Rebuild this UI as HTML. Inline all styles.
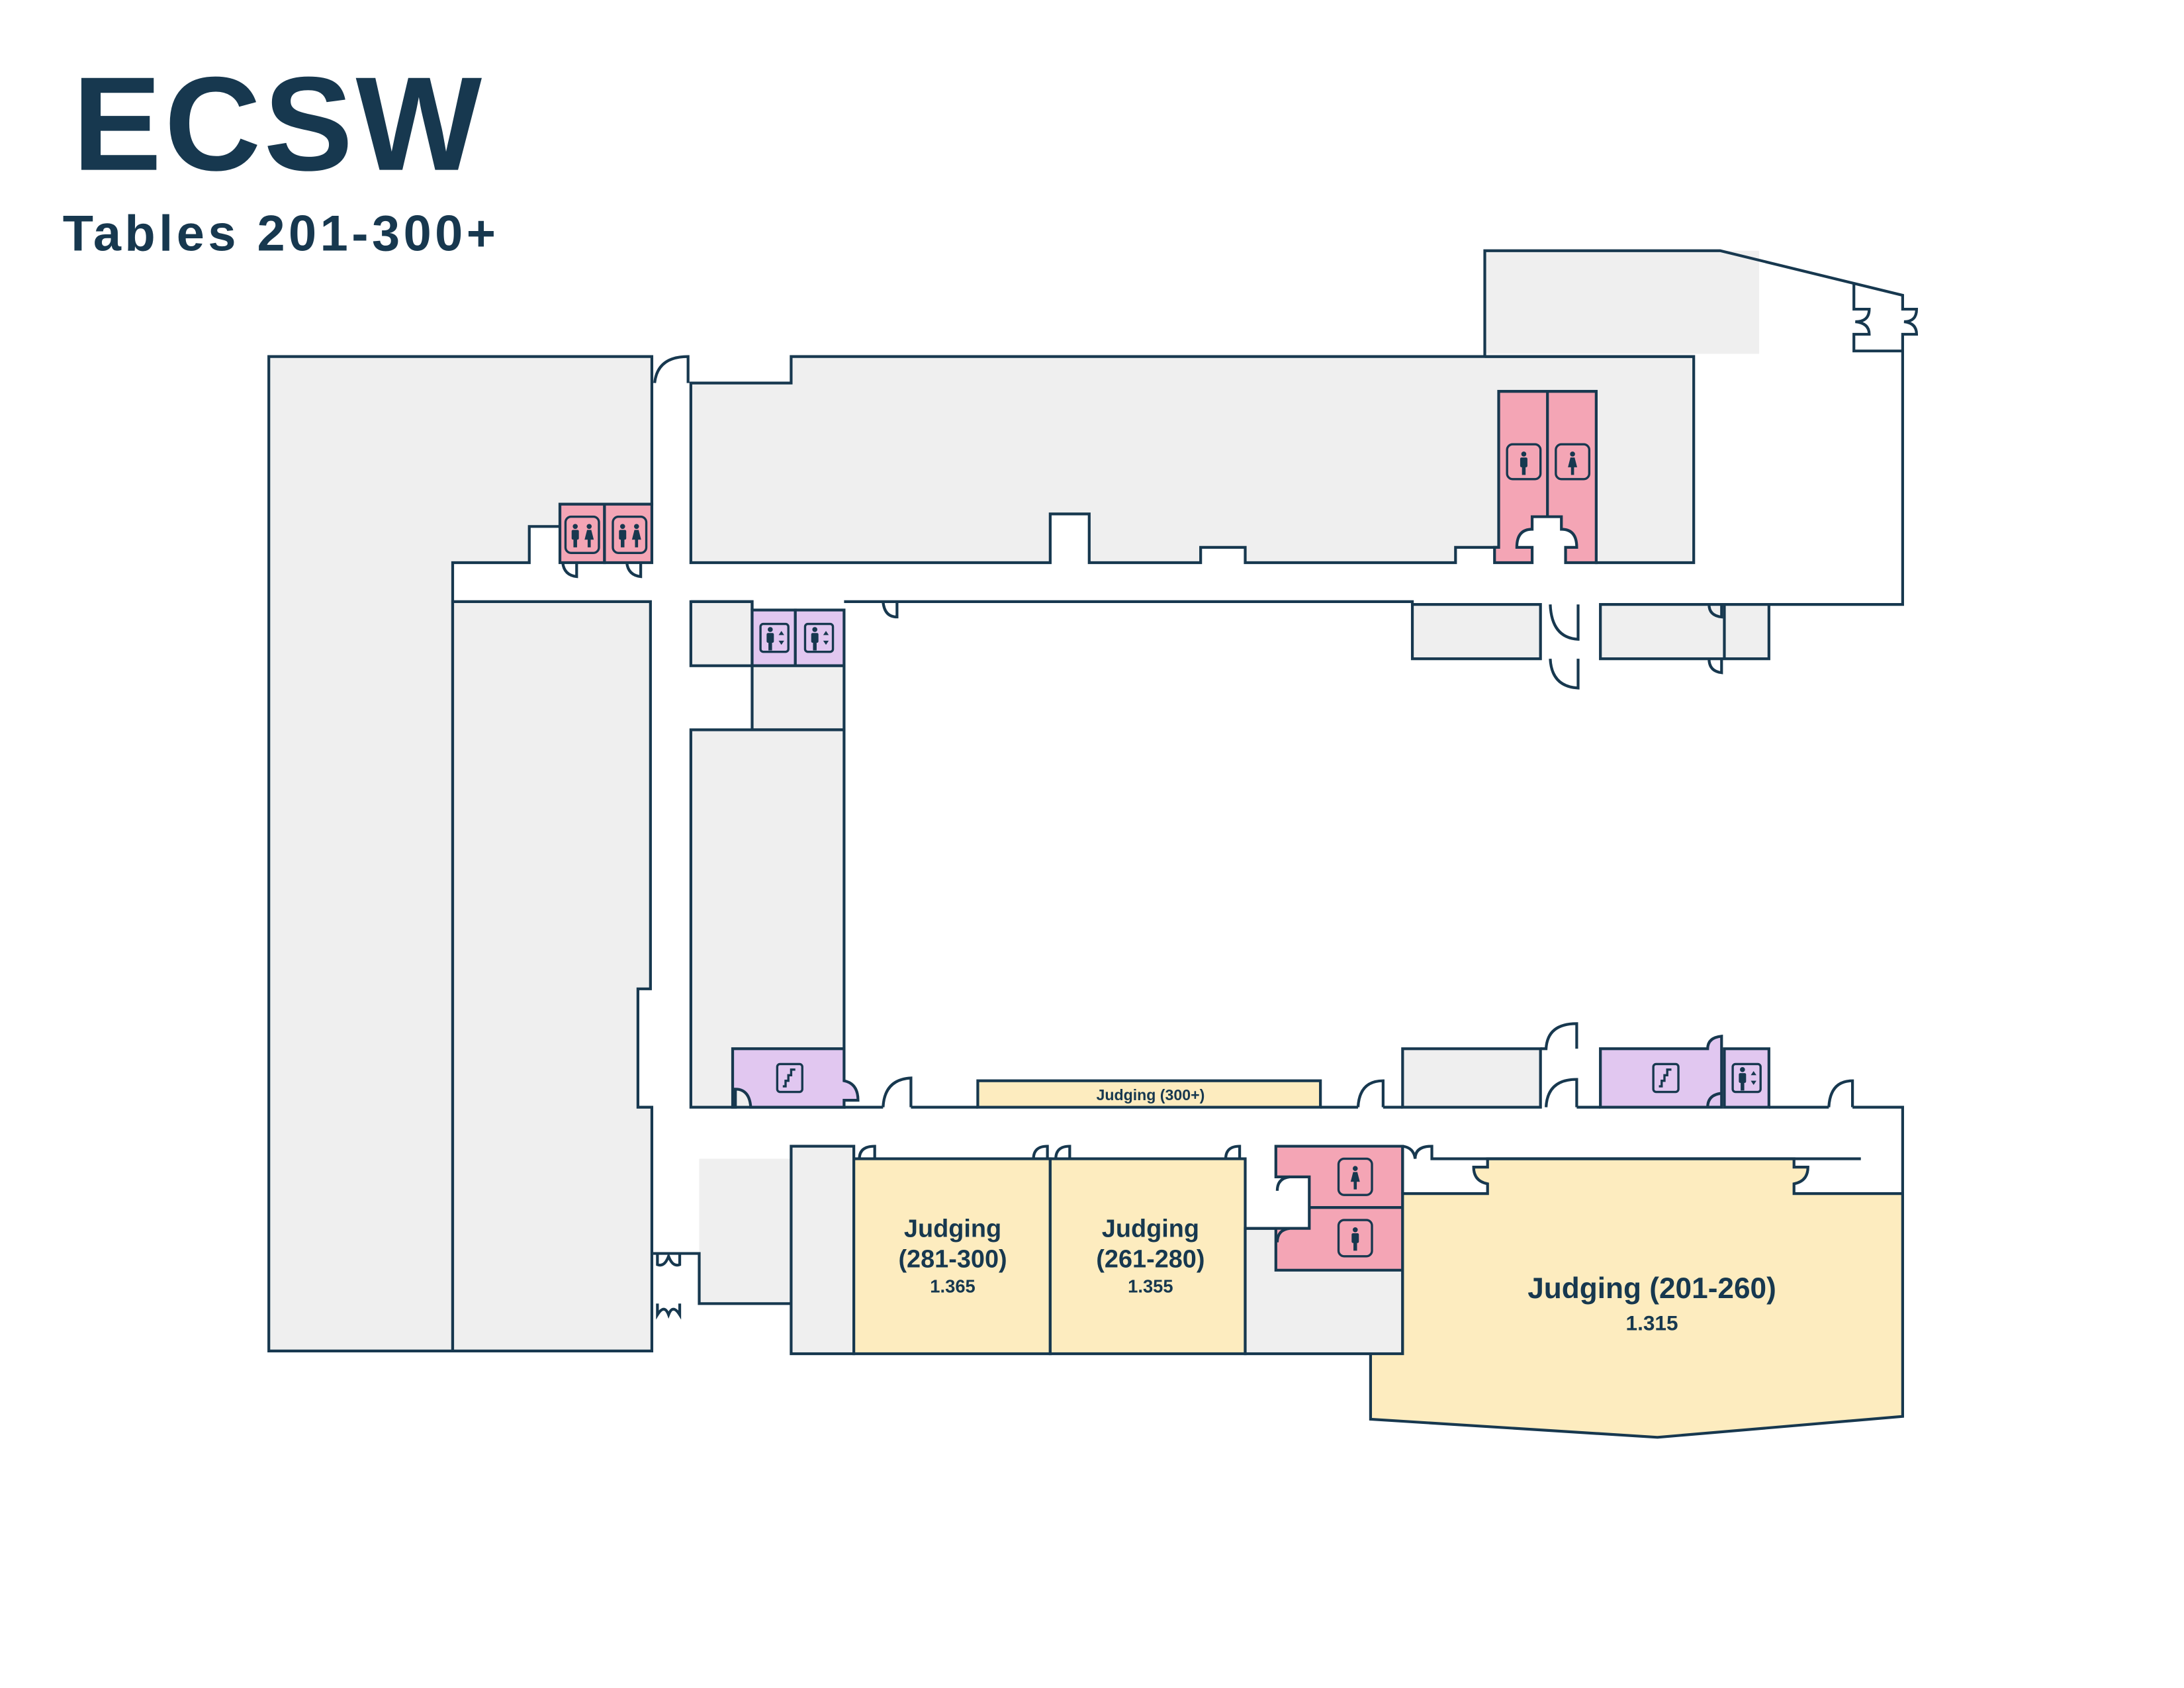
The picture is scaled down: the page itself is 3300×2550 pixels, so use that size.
<!DOCTYPE html>
<html><head><meta charset="utf-8"><style>
html,body{margin:0;padding:0;background:#fff;}
svg{display:block;}
text{font-family:"Liberation Sans",sans-serif;font-weight:bold;fill:#17384f;}
</style></head><body>
<svg width="3300" height="2550" viewBox="0 0 1568 1212" preserveAspectRatio="none" xmlns="http://www.w3.org/2000/svg">
<defs>
<g id="man"><circle cx="0" cy="-7" r="1.8" fill="#17384f"/><rect x="-2.6" y="-4.5" width="5.2" height="7" rx="1" fill="#17384f"/><rect x="-1.3" y="2" width="2.6" height="6" fill="#17384f"/></g>
<g id="woman"><circle cx="0" cy="-7" r="1.8" fill="#17384f"/><path d="M-1.5,-4.5 L1.5,-4.5 L3.3,2.5 L-3.3,2.5 Z" fill="#17384f"/><rect x="-1.1" y="2" width="2.2" height="6" fill="#17384f"/></g>
<g id="stair"><rect x="-9" y="-10" width="18" height="20" rx="2" fill="none" stroke="#17384f" stroke-width="1.6"/><path d="M-5,6 L-3,6 L-3,2 L-1,2 L-1,-2 L1,-2 L1,-6 L4,-6" fill="none" stroke="#17384f" stroke-width="1.6"/></g>
<g id="elev"><rect x="-10" y="-10" width="20" height="20" rx="2" fill="none" stroke="#17384f" stroke-width="1.6"/><use href="#man" x="-3" y="1"/><path d="M3,-2 L5,-5 L7,-2 Z M3,2 L7,2 L5,5 Z" fill="#17384f"/></g>
</defs>
<text x="52" y="122" font-size="96" letter-spacing="2">ECSW</text>
<text x="45" y="180" font-size="36" letter-spacing="2.6">Tables 201-300+</text>

<g stroke="#17384f" stroke-width="2" stroke-linejoin="miter">
<path d="M193,256 H468 V362 H402 V378 H380 V404 H325 V970 H193 Z" fill="#efefef"/>
<path d="M325,432 H467 V710 H458 V795 H468 V970 H325 Z" fill="#efefef"/>
<rect x="402" y="362" width="32" height="42" fill="#f4a5b5"/>
<rect x="434" y="362" width="34" height="42" fill="#f4a5b5"/>
<path d="M404,404 Q405,413 414,414 V404 M450,404 Q451,413 460,414 V404" fill="none"/>
<path d="M470,275 Q472,256 494,256 V275" fill="none"/>
<path d="M496,275 H568 V256 H1216 V404 H1146 V281 H1076 V393 H1045 V404 H894 V393 H862 V404 H782 V369 H754 V404 H496 Z" fill="#efefef"/>
<path d="M1076,281 H1146 V404 H1124 V393 H1132 Q1132,380 1121,380 V371 H1100 V380 Q1089,380 1089,393 H1100 V404 H1073 V393 H1076 Z" fill="#f4a5b5"/>
<line x1="1111" y1="281" x2="1111" y2="371"/>
<rect x="1066" y="180" width="197" height="74" fill="#efefef" stroke="none"/>
<path d="M1066,256 V180 H1235 L1366,212 V222 H1376 Q1376,231 1367,231 Q1376,232 1376,240 H1366 V434 H1150" fill="none"/>
<path d="M1331,204 V222 H1342 Q1342,231 1332,231 Q1342,232 1342,240 H1331 V252 H1366" fill="none"/>
<line x1="1066" y1="256" x2="1216" y2="256"/>
<rect x="1014" y="434" width="92" height="39" fill="#efefef"/>
<rect x="1149" y="434" width="121" height="39" fill="#efefef"/>
<line x1="1238" y1="434" x2="1238" y2="473"/>
<path d="M1113,434 Q1114,458 1133,459 V434 M1113,473 Q1114,493 1133,494 V473 M1227,434 Q1227,442 1236,443 V434 M1227,473 Q1227,482 1236,483 V473" fill="none"/>
<path d="M1014,434 V432 H606" fill="none"/>
<path d="M634,432 Q635,443 644,443 V432" fill="none"/>
<rect x="496" y="432" width="44" height="46" fill="#efefef"/>
<rect x="540" y="438" width="31" height="40" fill="#e1c7f0"/>
<rect x="571" y="438" width="35" height="40" fill="#e1c7f0"/>
<path d="M540,438 V432 H496" fill="none"/>
<rect x="540" y="478" width="66" height="46" fill="#efefef"/>
<rect x="496" y="524" width="110" height="271" fill="#efefef"/>
<path d="M526,753 H606 V776 Q616,778 616,790 H606 V795 H539 Q538,782 528,782 V795 H526 Z" fill="#e1c7f0"/>
<path d="M606,795 H634 M654,795 H702 M948,795 H975 M993,795 H1007 M1132,795 H1149 M1270,795 H1313 M1330,795 H1366 V1017" fill="none"/>
<path d="M634,795 Q635,775 654,774 V795 M975,795 Q976,776 993,776 V795 M1313,795 Q1314,776 1330,776 V795" fill="none"/>
<rect x="702" y="776" width="246" height="19" fill="#fdecbf"/>
<rect x="1007" y="753" width="99" height="42" fill="#efefef"/>
<path d="M1106,753 H1110 Q1111,735 1132,735 V753 M1110,795 Q1111,775 1132,775 V795" fill="none"/>
<path d="M1149,753 H1226 Q1226,745 1236,744 V795 H1149 Z" fill="#e1c7f0"/>
<path d="M1226,795 Q1226,786 1236,785" fill="none"/>
<rect x="1238" y="753" width="32" height="42" fill="#e1c7f0"/>
<rect x="502" y="832" width="66" height="104" fill="#efefef" stroke="none"/>
<path d="M469,900 H502 V936 H568" fill="none"/>
<path d="M472,900 V908 Q477,910 480,902 Q483,910 488,908 V900 M472,936 V944 Q477,936 480,944 Q483,936 488,944 V936" fill="none"/>
<rect x="568" y="823" width="45" height="149" fill="#efefef"/>
<rect x="613" y="832" width="141" height="140" fill="#fdecbf"/>
<path d="M617,832 Q617,823 628,823 V832 M742,832 Q742,823 752,823 V832" fill="none"/>
<rect x="754" y="832" width="140" height="140" fill="#fdecbf"/>
<path d="M758,832 Q758,823 768,823 V832 M880,832 Q880,823 890,823 V832" fill="none"/>
<rect x="894" y="882" width="113" height="90" fill="#efefef"/>
<path d="M916,823 H1007 V912 H916 V882 H940 V845 H916 Z" fill="#f4a5b5"/>
<path d="M926,845 Q917,846 917,855 M926,882 Q917,883 917,892" fill="none"/>
<line x1="940" y1="867" x2="1007" y2="867"/>
<path d="M894,882 H916" fill="none"/>
<path d="M1007,857 H1068 V850 Q1058,848 1058,838 H1068 V832 H1288 V838 H1298 Q1298,848 1288,850 V857 H1366 V1017 L1190,1032 L984,1019 V972 H1007 Z" fill="#fdecbf"/>
<path d="M1007,823 V857" fill="none"/>
<path d="M1007,823 Q1015,824 1016,832 Q1016,823 1028,823 V832 H1336" fill="none"/>
</g>

<g>
<rect x="406" y="371" width="24" height="26" rx="4" fill="none" stroke="#17384f" stroke-width="1.6"/>
<use href="#man" x="413" y="385"/><use href="#woman" x="423" y="385"/>
<rect x="440" y="371" width="24" height="26" rx="4" fill="none" stroke="#17384f" stroke-width="1.6"/>
<use href="#man" x="447" y="385"/><use href="#woman" x="457" y="385"/>
<use href="#elev" x="556" y="458"/><use href="#elev" x="588" y="458"/>
<rect x="1082" y="319" width="24" height="25" rx="4" fill="none" stroke="#17384f" stroke-width="1.6"/>
<use href="#man" x="1094" y="333"/>
<rect x="1117" y="319" width="24" height="25" rx="4" fill="none" stroke="#17384f" stroke-width="1.6"/>
<use href="#woman" x="1129" y="333"/>
<rect x="961" y="832" width="24" height="26" rx="4" fill="none" stroke="#17384f" stroke-width="1.6"/>
<use href="#woman" x="973" y="846"/>
<rect x="961" y="876" width="24" height="26" rx="4" fill="none" stroke="#17384f" stroke-width="1.6"/>
<use href="#man" x="973" y="890"/>
<use href="#stair" x="567" y="774"/><use href="#stair" x="1196" y="774"/>
<use href="#elev" x="1254" y="774"/>
</g>

<text x="826" y="790" font-size="11" text-anchor="middle">Judging (300+)</text>
<text x="684" y="888" font-size="18" text-anchor="middle">Judging</text>
<text x="684" y="910" font-size="18" text-anchor="middle">(281-300)</text>
<text x="684" y="928" font-size="13" text-anchor="middle">1.365</text>
<text x="826" y="888" font-size="18" text-anchor="middle">Judging</text>
<text x="826" y="910" font-size="18" text-anchor="middle">(261-280)</text>
<text x="826" y="928" font-size="13" text-anchor="middle">1.355</text>
<text x="1186" y="932" font-size="21" text-anchor="middle">Judging (201-260)</text>
<text x="1186" y="955" font-size="15" text-anchor="middle">1.315</text>
</svg>
</body></html>
